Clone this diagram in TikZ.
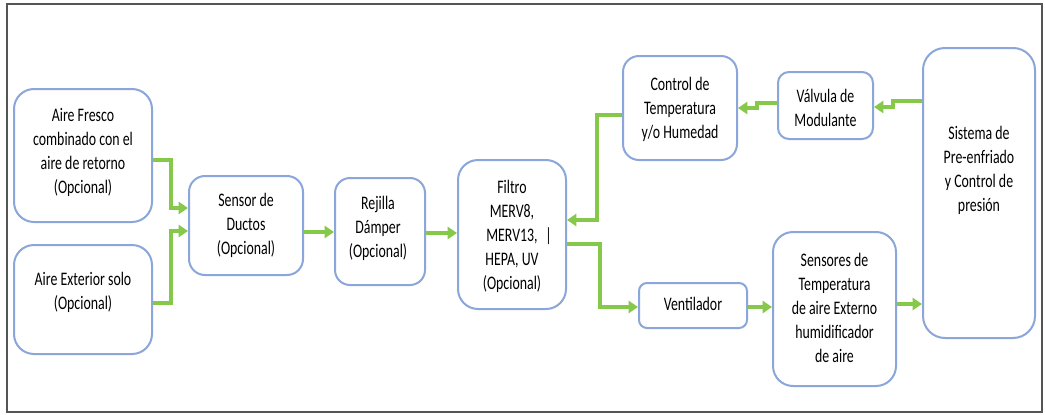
\documentclass[tikz,border=0pt]{standalone}
\usepackage{fontspec}
\usepackage{graphicx}
\setmainfont{Carlito}
\usetikzlibrary{arrows.meta}
\definecolor{boxblue}{HTML}{8AA6DA}
\definecolor{flowgreen}{HTML}{86C84A}
\definecolor{framegray}{HTML}{555555}
% tall, narrow lettering for the box captions
\newcommand\boxcaption[1]{\scalebox{1}[1.38]{\begin{tabular}{@{}c@{}}#1\end{tabular}}}
\begin{document}
\begin{tikzpicture}[x=0.75pt,y=-0.75pt,
  box/.style={draw=boxblue, line width=1.5pt, fill=white, inner sep=0pt},
  sz/.style 2 args={minimum width=#1*0.75pt, minimum height=#2*0.75pt},
  rc/.style={rounded corners=#1*0.75pt},
  txt/.style={inner sep=0pt, font=\fontsize{10.4pt}{13pt}\selectfont},
  arr/.style={draw=flowgreen, line width=2.5pt,
    -{Triangle[width=9pt,length=7pt]}},
]
\useasboundingbox (0,0) rectangle (1045,414);
\fill[white] (0,0) rectangle (1045,414);
\draw[framegray, line width=1.4pt] (7,4) rectangle (1042,412);

% boxes
\node[box, sz={138}{133}, rc=20] (fresco) at (83,155.5) {};
\node[box, sz={138}{109}, rc=20] (ext) at (83,299.5) {};
\node[box, sz={114}{99}, rc=16] (sensor) at (246,225.5) {};
\node[box, sz={90}{107}, rc=15] (rejilla) at (380,231.5) {};
\node[box, sz={108}{149}, rc=20] (filtro) at (512,234.5) {};
\node[box, sz={114}{104}, rc=16] (control) at (680,108) {};
\node[box, sz={95}{67}, rc=11] (valv) at (825.5,105.5) {};
\node[box, sz={112}{290}, rc=22] (sistema) at (979,193) {};
\node[box, sz={108}{45}, rc=8] (vent) at (693,305.5) {};
\node[box, sz={123}{154}, rc=20] (sensores) at (834.5,309) {};

% captions
\node[txt] (frescoT) at (83,153)
  {\boxcaption{Aire Fresco\\combinado con el\\aire de retorno\\(Opcional)}};
\node[txt] (extT) at (83,293) {\boxcaption{Aire Exterior solo\\(Opcional)}};
\node[txt] (sensorT) at (246,226) {\boxcaption{Sensor de\\Ductos\\(Opcional)}};
\node[txt] (rejillaT) at (378,229) {\boxcaption{Rejilla\\Dámper\\(Opcional)}};
\node[txt] (filtroT) at (512,237)
  {\boxcaption{Filtro\\MERV8,\\MERV13,\rlap{\hspace{0.55em}|}\\HEPA, UV\\(Opcional)}};
\node[txt] (controlT) at (680,110) {\boxcaption{Control de\\Temperatura\\y/o Humedad}};
\node[txt] (valvT) at (825.5,110) {\boxcaption{Válvula de\\Modulante}};
\node[txt] (sistemaT) at (979,171)
  {\boxcaption{Sistema de\\Pre-enfriado\\y Control de\\presión}};
\node[txt] (ventT) at (693,306) {\boxcaption{Ventilador}};
\node[txt] (sensoresT) at (834.5,310)
  {\boxcaption{Sensores de\\Temperatura\\de aire Externo\\humidificador\\de aire}};

% connectors
\draw[arr] (fresco.east |- 0,160) -| (171,208) -- (sensor.west |- 0,208);
\draw[arr, line width=3.4pt] (ext.east |- 0,303) -| (171,231) -- (sensor.west |- 0,231);
\draw[arr] (sensor.east |- 0,232) -- (rejilla.west |- 0,232);
\draw[arr] (rejilla.east |- 0,233) -- (filtro.west |- 0,233);
\draw[arr] (filtro.east |- 0,244) -| (600,307) -- (vent.west |- 0,307);
\draw[arr] (control.west |- 0,115) -| (597,220) -- (filtro.east |- 0,220);
\draw[arr] (valv.west |- 0,103) -- (757,103) -- (757,108) -- (control.east |- 0,108);
\draw[arr] (sistema.west |- 0,101) -- (893,101) -- (893,107) -- (valv.east |- 0,107);
\draw[arr] (vent.east |- 0,307) -- (sensores.west |- 0,307);
\draw[arr] (sensores.east |- 0,304) -- (sistema.west |- 0,304);
\end{tikzpicture}
\end{document}
